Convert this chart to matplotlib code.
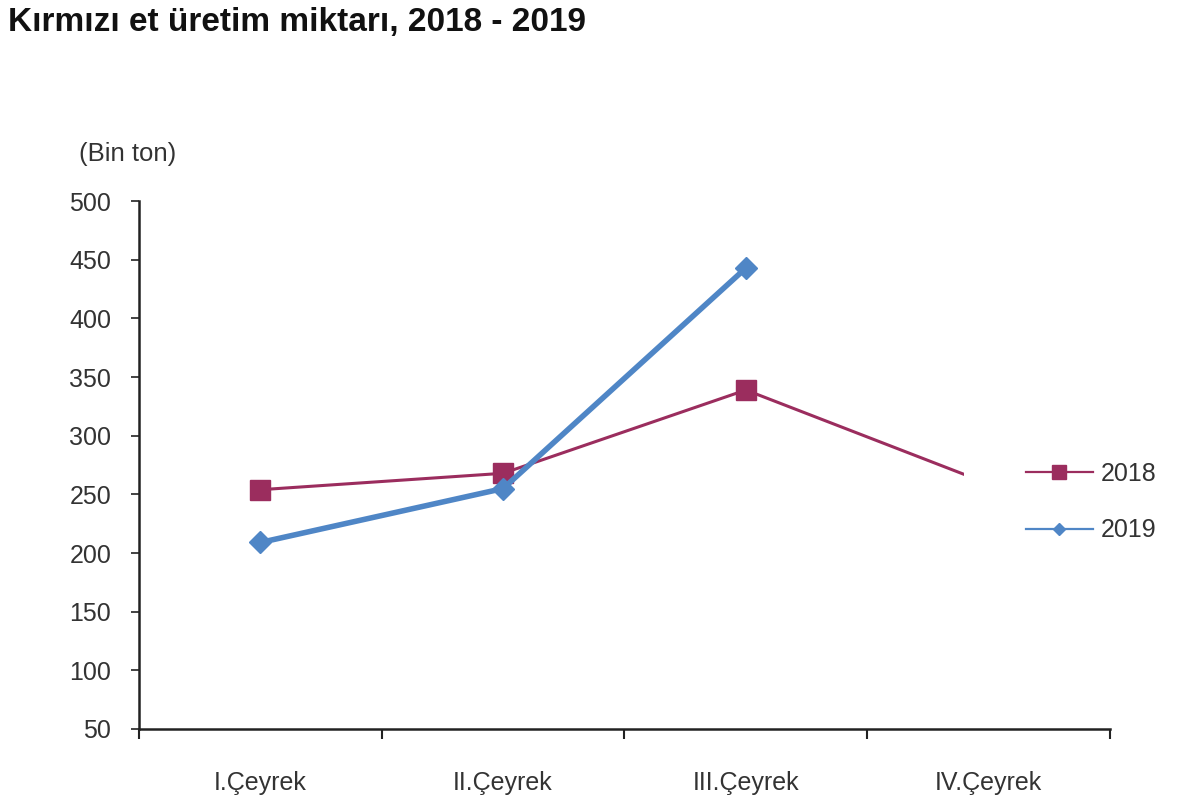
import matplotlib
matplotlib.use("Agg")
import matplotlib.pyplot as plt
from matplotlib.lines import Line2D
from matplotlib.patches import Rectangle

categories = ["I.Çeyrek", "II.Çeyrek", "III.Çeyrek", "IV.Çeyrek"]
values_2018 = [254, 268, 339, 259]
values_2019 = [209, 255, 443]
yticks = [50, 100, 150, 200, 250, 300, 350, 400, 450, 500]

plt.rcParams['font.family'] = ['Liberation Sans', 'DejaVu Sans']

c2018 = '#9B2D5E'
c2019 = '#4F86C6'

fig = plt.figure(figsize=(12, 8.08), dpi=100)
ax = fig.add_axes([0.1158, 0.0978, 0.925 - 0.1158, 0.751 - 0.0978])

x18 = list(range(len(values_2018)))
x19 = list(range(len(values_2019)))

l18, = ax.plot(x18, values_2018, color=c2018, lw=2.2, marker='s', markersize=15,
               markevery=[0, 1, 2], zorder=3)
clip = Rectangle((-0.5, 0), 3.4, 1000, transform=ax.transData)
l18.set_clip_path(clip)
ax.plot(x19, values_2019, color=c2019, lw=4, marker='D', markersize=11, zorder=4)

ax.set_xlim(-0.5, 3.5)
ax.set_ylim(50, 500)
ax.set_yticks(yticks)
ax.set_yticklabels([str(v) for v in yticks])
ax.set_xticks([-0.5, 0.5, 1.5, 2.5, 3.5])
ax.set_xticklabels([])
ax.set_xticks(range(len(categories)), minor=True)
ax.set_xticklabels(categories, minor=True)
ax.tick_params(axis='x', which='minor', length=0, pad=30, labelsize=18, labelcolor='#333333')
ax.tick_params(axis='x', which='major', length=7, width=1.5, direction='out', color='#222222')
ax.tick_params(axis='y', length=6, width=1.2, direction='out', pad=14, labelsize=18,
               labelcolor='#333333', color='#222222')
for s in ['top', 'right']:
    ax.spines[s].set_visible(False)
for s in ['left', 'bottom']:
    ax.spines[s].set_linewidth(1.8)
    ax.spines[s].set_color('#222222')

fig.text(0.066, 1 - 154 / 808, "(Bin ton)", fontsize=18.5, color='#333333', va='center')
fig.text(0.007, 1 - 22 / 808, "Kırmızı et üretim miktarı, 2018 - 2019", fontsize=24,
         fontweight='bold', color='#111111', va='center')

handles = [
    Line2D([], [], color=c2018, lw=1.6, marker='s', markersize=10),
    Line2D([], [], color=c2019, lw=1.6, marker='D', markersize=6),
]
ax.legend(handles, ['2018', '2019'], loc='center left', bbox_to_anchor=(0.89, 0.43),
          frameon=False, fontsize=18, handlelength=2.7, labelspacing=1.3,
          handletextpad=0.3, labelcolor='#333333')

fig.savefig('out.png', dpi=100)
